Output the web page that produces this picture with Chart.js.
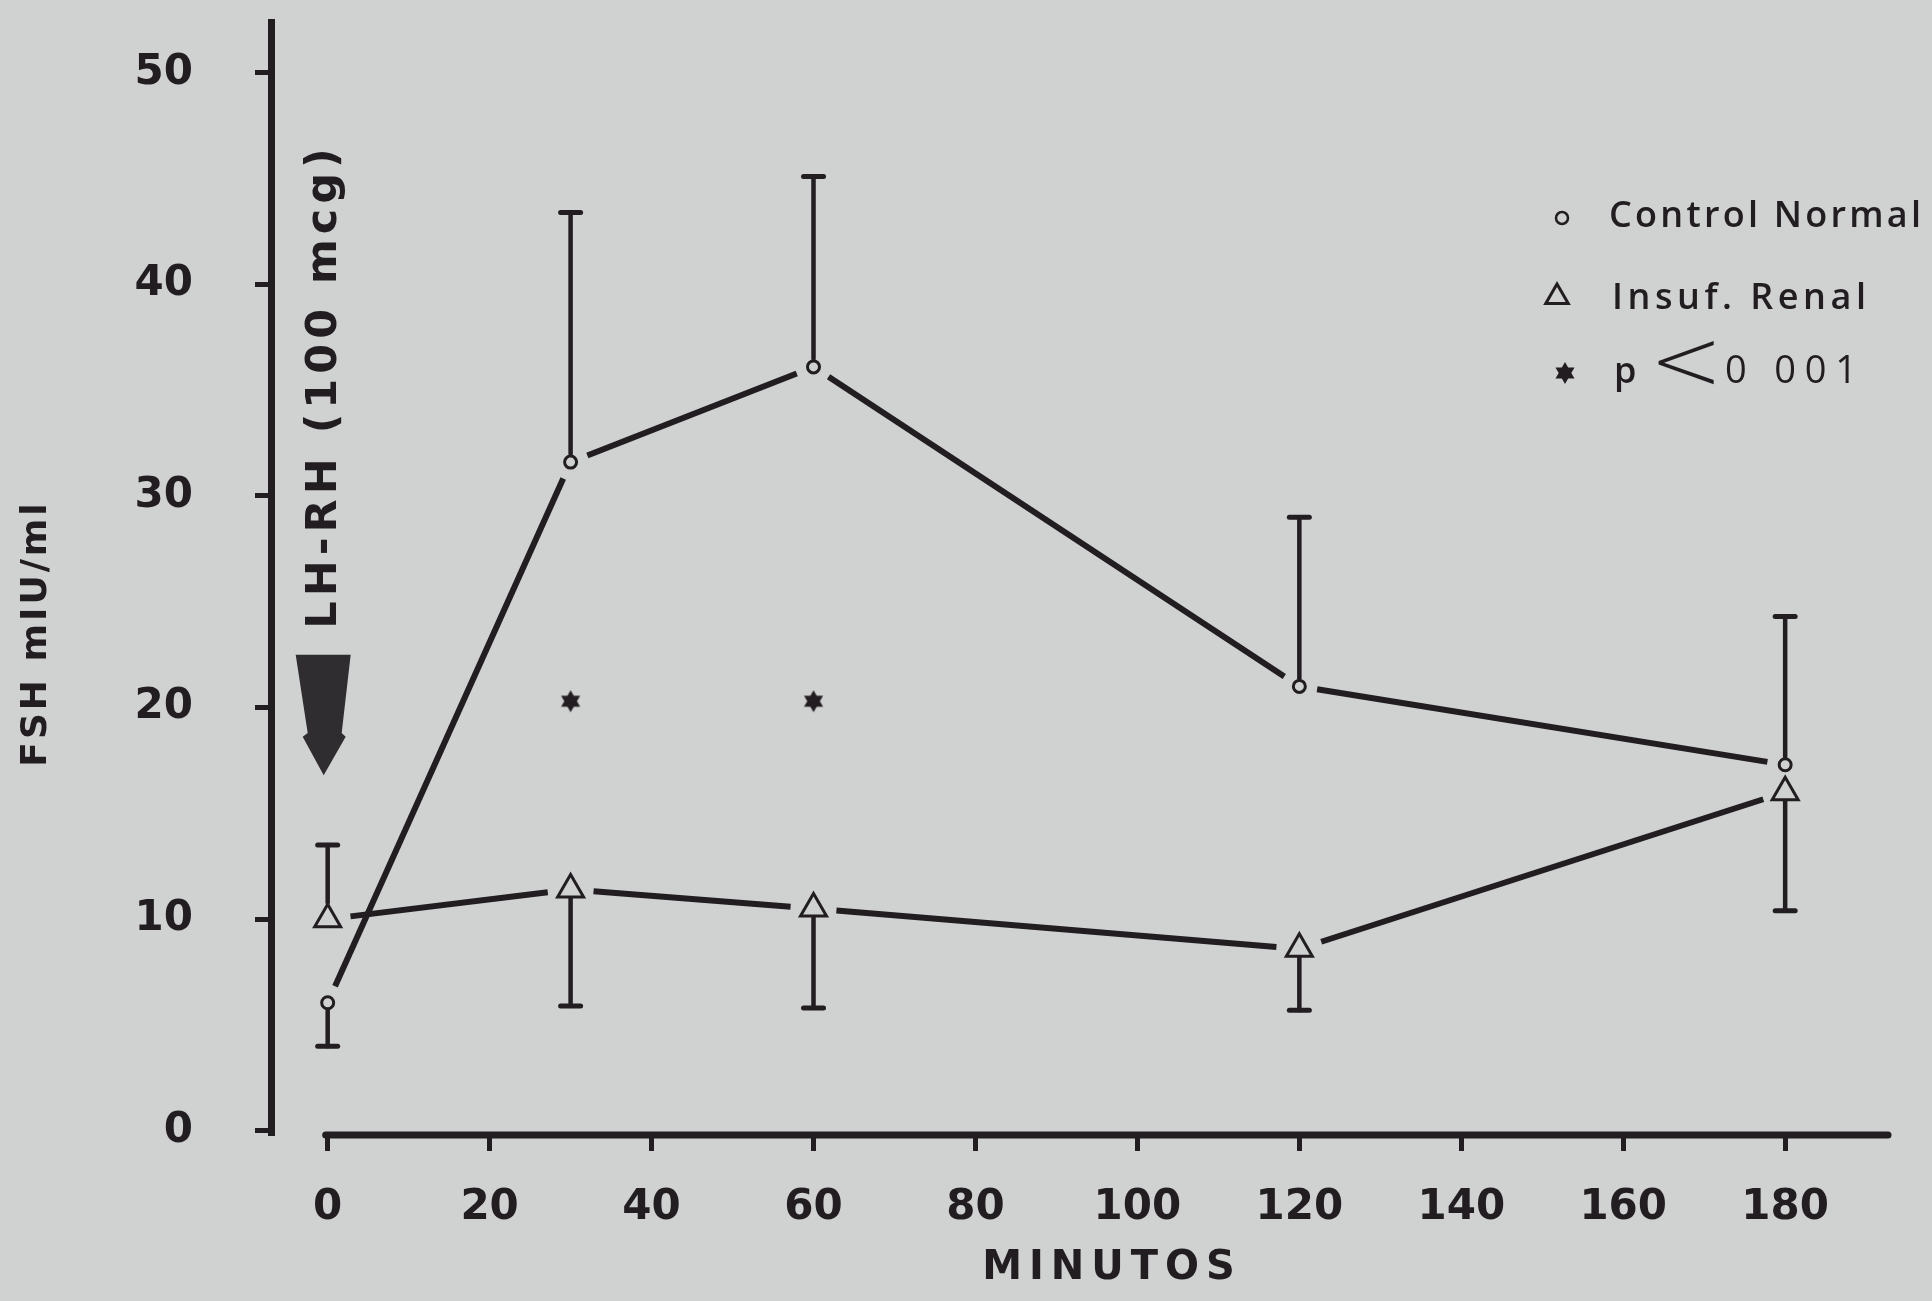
<!DOCTYPE html>
<html><head><meta charset="utf-8">
<script src="https://cdn.jsdelivr.net/npm/chart.js@4.4.1/dist/chart.umd.min.js"></script>
<style>
html,body{margin:0;padding:0;background:#cfd2d1;}
#wrap{position:relative;width:1932px;height:1301px;}
</style></head><body>
<div id="wrap"><canvas id="c"></canvas></div>
<script>
// ---- data ----
const minutes = [0, 30, 60, 120, 180];
const controlNormal = [6.05, 31.6, 36.1, 21.0, 17.3];
const controlErrEnd = [4.0, 43.4, 45.1, 29.0, 24.3];
const insufRenal = [10.0, 11.4, 10.5, 8.6, 16.0];
const insufRenalErrEnd = [13.5, 5.9, 5.8, 5.7, 10.4];
const signifMinutes = [30, 60];
const signifLevel = [20.3, 20.3];
const xTickValues = [0, 20, 40, 60, 80, 100, 120, 140, 160, 180];
const yTickValues = [0, 10, 20, 30, 40, 50];
const seriesLabels = ['Control Normal', 'Insuf. Renal', 'p < 0 001'];
const xTitle = 'MINUTOS';
const yTitle = 'FSH mIU/ml';
const injectionLabel = 'LH-RH (100 mcg)';
const injectionMinute = 0;
const injectionArrowFrom = 22.5;
const injectionArrowTo = 16.8;
const injectionLabelAt = 35.2;

// ---- styles ----
const INK = '#211d20';
const BG = '#cfd2d1';
const FONT = 'DejaVu Sans';
const LEGEND_FONT = '"Open Sans", "DejaVu Sans"';

function makeStar(size, outer, inner, color) {
  const c = document.createElement('canvas');
  c.width = c.height = size;
  const g = c.getContext('2d');
  g.fillStyle = color;
  g.beginPath();
  for (let i = 0; i < 12; i++) {
    const r = i % 2 ? inner : outer;
    const a = -Math.PI / 2 + i * Math.PI / 6;
    g.lineTo(size / 2 + r * Math.cos(a), size / 2 + r * Math.sin(a));
  }
  g.closePath();
  g.fill();
  return c;
}
const starImg = makeStar(26, 11, 6.3, INK);

// lines stop short of each marker: gap (px) measured from the marker centre
function gapDash(ctx, g) {
  const p0 = ctx.p0, p1 = ctx.p1;
  const L = Math.hypot(p1.x - p0.x, p1.y - p0.y);
  if (!isFinite(L) || L <= 2 * g) return [];
  return [0, g, L - 2 * g, 100000];
}

const errorSets = [
  { end: controlErrEnd, up: 8, down: 8 },
  { end: insufRenalErrEnd, up: 16.5, down: 9 }
];

function fitText(ctx, text, x, y, width) {
  ctx.letterSpacing = '0px';
  const w = ctx.measureText(text).width;
  const n = Math.max(text.length - 1, 1);
  ctx.letterSpacing = Math.max((width - w) / n, 0) + 'px';
  ctx.fillText(text, x, y);
  ctx.letterSpacing = '0px';
}

const figurePlugin = {
  id: 'figure',
  afterDatasetsDraw(chart) {
    const ctx = chart.ctx, xs = chart.scales.x, ys = chart.scales.y;
    ctx.save();
    ctx.strokeStyle = INK;
    ctx.lineCap = 'round';
    errorSets.forEach((es, di) => {
      const ds = chart.data.datasets[di];
      ds.data.forEach((p, i) => {
        const px = xs.getPixelForValue(p.x);
        const py = ys.getPixelForValue(p.y);
        const pe = ys.getPixelForValue(es.end[i]);
        const dir = pe < py ? -1 : 1;
        const start = py + dir * (dir < 0 ? es.up : es.down);
        ctx.lineWidth = 4.5;
        ctx.beginPath(); ctx.moveTo(px, start); ctx.lineTo(px, pe); ctx.stroke();
        ctx.lineWidth = 5;
        ctx.beginPath(); ctx.moveTo(px - 10, pe); ctx.lineTo(px + 10, pe); ctx.stroke();
      });
    });
    ctx.restore();
  },
  afterDraw(chart) {
    const ctx = chart.ctx, xs = chart.scales.x, ys = chart.scales.y, ca = chart.chartArea;
    ctx.save();
    // x axis line (starts at the 0 tick, leaving a gap to the y axis)
    ctx.strokeStyle = INK;
    ctx.lineWidth = 7;
    ctx.lineCap = 'round';
    ctx.beginPath();
    ctx.moveTo(xs.getPixelForValue(xTickValues[0]) - 2, ca.bottom);
    ctx.lineTo(ca.right, ca.bottom);
    ctx.stroke();

    // injection arrow
    const ax = xs.getPixelForValue(injectionMinute) - 5;
    const top = ys.getPixelForValue(injectionArrowFrom);
    const tip = ys.getPixelForValue(injectionArrowTo);
    const H = tip - top;
    ctx.fillStyle = '#302d31';
    ctx.beginPath();
    ctx.moveTo(ax - 27, top);
    ctx.lineTo(ax + 28, top);
    ctx.lineTo(ax + 19, top + 0.65 * H);
    ctx.lineTo(ax + 23, top + 0.68 * H);
    ctx.lineTo(ax + 1, tip);
    ctx.lineTo(ax - 20, top + 0.68 * H);
    ctx.lineTo(ax - 15, top + 0.65 * H);
    ctx.closePath();
    ctx.fill();

    ctx.fillStyle = INK;
    // injection label (vertical)
    ctx.save();
    ctx.translate(xs.getPixelForValue(injectionMinute) - 3, ys.getPixelForValue(injectionLabelAt));
    ctx.rotate(-Math.PI / 2);
    ctx.font = `bold 43px "${FONT}"`;
    ctx.letterSpacing = '5px';
    ctx.textAlign = 'center';
    ctx.textBaseline = 'middle';
    ctx.fillText(injectionLabel, 0, 0);
    ctx.restore();

    // y axis title
    ctx.save();
    ctx.translate(37, ys.getPixelForValue(23.5));
    ctx.rotate(-Math.PI / 2);
    ctx.font = `bold 36px "${FONT}"`;
    ctx.letterSpacing = '3px';
    ctx.textAlign = 'center';
    ctx.textBaseline = 'middle';
    ctx.fillText(yTitle, 0, 0);
    ctx.restore();

    // x axis title
    ctx.save();
    ctx.font = `bold 40px "${FONT}"`;
    ctx.letterSpacing = '7px';
    ctx.textAlign = 'center';
    ctx.textBaseline = 'middle';
    ctx.fillText(xTitle, 1112, 1269);
    ctx.restore();

    // legend
    const rows = [
      { sx: 1562, sy: 218, tx: 1609, ty: 227, w: 312 },
      { sx: 1557, sy: 297, tx: 1612, ty: 309, w: 254 },
      { sx: 1565, sy: 373, tx: 1614, ty: 383, w: 0 }
    ];
    chart.data.datasets.forEach((ds, i) => {
      const r = rows[i];
      ctx.save();
      ctx.fillStyle = ds.pointBackgroundColor || INK;
      ctx.strokeStyle = INK;
      ctx.lineWidth = i === 0 ? 2.5 : 3;
      Chart.helpers.drawPoint(ctx, {
        pointStyle: ds.pointStyle,
        radius: i === 0 ? 6 : (i === 1 ? 13 : 10),
        borderWidth: ctx.lineWidth,
        rotation: 0
      }, r.sx, r.sy);
      ctx.restore();
      ctx.save();
      ctx.fillStyle = INK;
      ctx.textBaseline = 'alphabetic';
      ctx.textAlign = 'left';
      ctx.font = `600 36px ${LEGEND_FONT}`;
      const parts = ds.label.split(' < ');
      if (parts.length === 2) {
        ctx.fillText(parts[0], r.tx, r.ty);
        ctx.font = `200 88px "${FONT}"`;
        ctx.textAlign = 'center';
        ctx.textBaseline = 'middle';
        ctx.fillText('<', 1686, 367);
        ctx.font = `500 38px ${LEGEND_FONT}`;
        ctx.textAlign = 'left';
        ctx.textBaseline = 'alphabetic';
        fitText(ctx, parts[1], 1725, r.ty, 132);
      } else {
        fitText(ctx, ds.label, r.tx, r.ty, r.w);
      }
      ctx.restore();
    });
    ctx.restore();
  }
};

const tickFont = { family: FONT, size: 42, weight: 'bold' };

new Chart(document.getElementById('c'), {
  type: 'line',
  data: {
    datasets: [
      {
        label: seriesLabels[0],
        data: minutes.map((m, i) => ({ x: m, y: controlNormal[i] })),
        borderColor: INK,
        borderWidth: 6,
        borderCapStyle: 'butt',
        pointStyle: 'circle',
        pointRadius: 6,
        pointBorderWidth: 3,
        pointBackgroundColor: BG,
        pointBorderColor: INK,
        segment: { borderDash: c => gapDash(c, 18) },
        order: 1
      },
      {
        label: seriesLabels[1],
        data: minutes.map((m, i) => ({ x: m, y: insufRenal[i] })),
        borderColor: INK,
        borderWidth: 6,
        borderCapStyle: 'butt',
        pointStyle: 'triangle',
        pointRadius: 15,
        pointBorderWidth: 3,
        pointBackgroundColor: BG,
        pointBorderColor: INK,
        segment: { borderDash: c => gapDash(c, 23) },
        order: 2
      },
      {
        label: seriesLabels[2],
        data: signifMinutes.map((m, i) => ({ x: m, y: signifLevel[i] })),
        showLine: false,
        pointStyle: starImg,
        pointRadius: 10,
        order: 0
      }
    ]
  },
  options: {
    responsive: true,
    maintainAspectRatio: false,
    animation: false,
    events: [],
    layout: { padding: { left: 0, top: 22, right: 44, bottom: 0 } },
    plugins: { legend: { display: false }, tooltip: { enabled: false } },
    scales: {
      x: {
        type: 'linear',
        min: -7.0,
        max: 192.7,
        afterBuildTicks: s => { s.ticks = xTickValues.map(v => ({ value: v })); },
        afterFit: s => { s.height = 166; s.paddingLeft = 0; s.paddingRight = 0; },
        grid: { display: true, drawOnChartArea: false, drawTicks: true, tickLength: 16, tickWidth: 5, tickColor: INK, color: INK },
        border: { display: false },
        ticks: { color: INK, font: tickFont, padding: 32, maxRotation: 0, autoSkip: false }
      },
      y: {
        type: 'linear',
        min: -0.2,
        max: 52.4,
        afterBuildTicks: s => { s.ticks = yTickValues.map(v => ({ value: v })); },
        afterFit: s => { s.width = 271; s.paddingTop = 0; s.paddingBottom = 0; },
        grid: { display: true, drawOnChartArea: false, drawTicks: true, tickLength: 16, tickWidth: 5, tickColor: INK, color: INK },
        border: { display: true, color: INK, width: 7 },
        ticks: { color: INK, font: tickFont, padding: 62, autoSkip: false }
      }
    }
  },
  plugins: [figurePlugin]
});
</script>
</body></html>
